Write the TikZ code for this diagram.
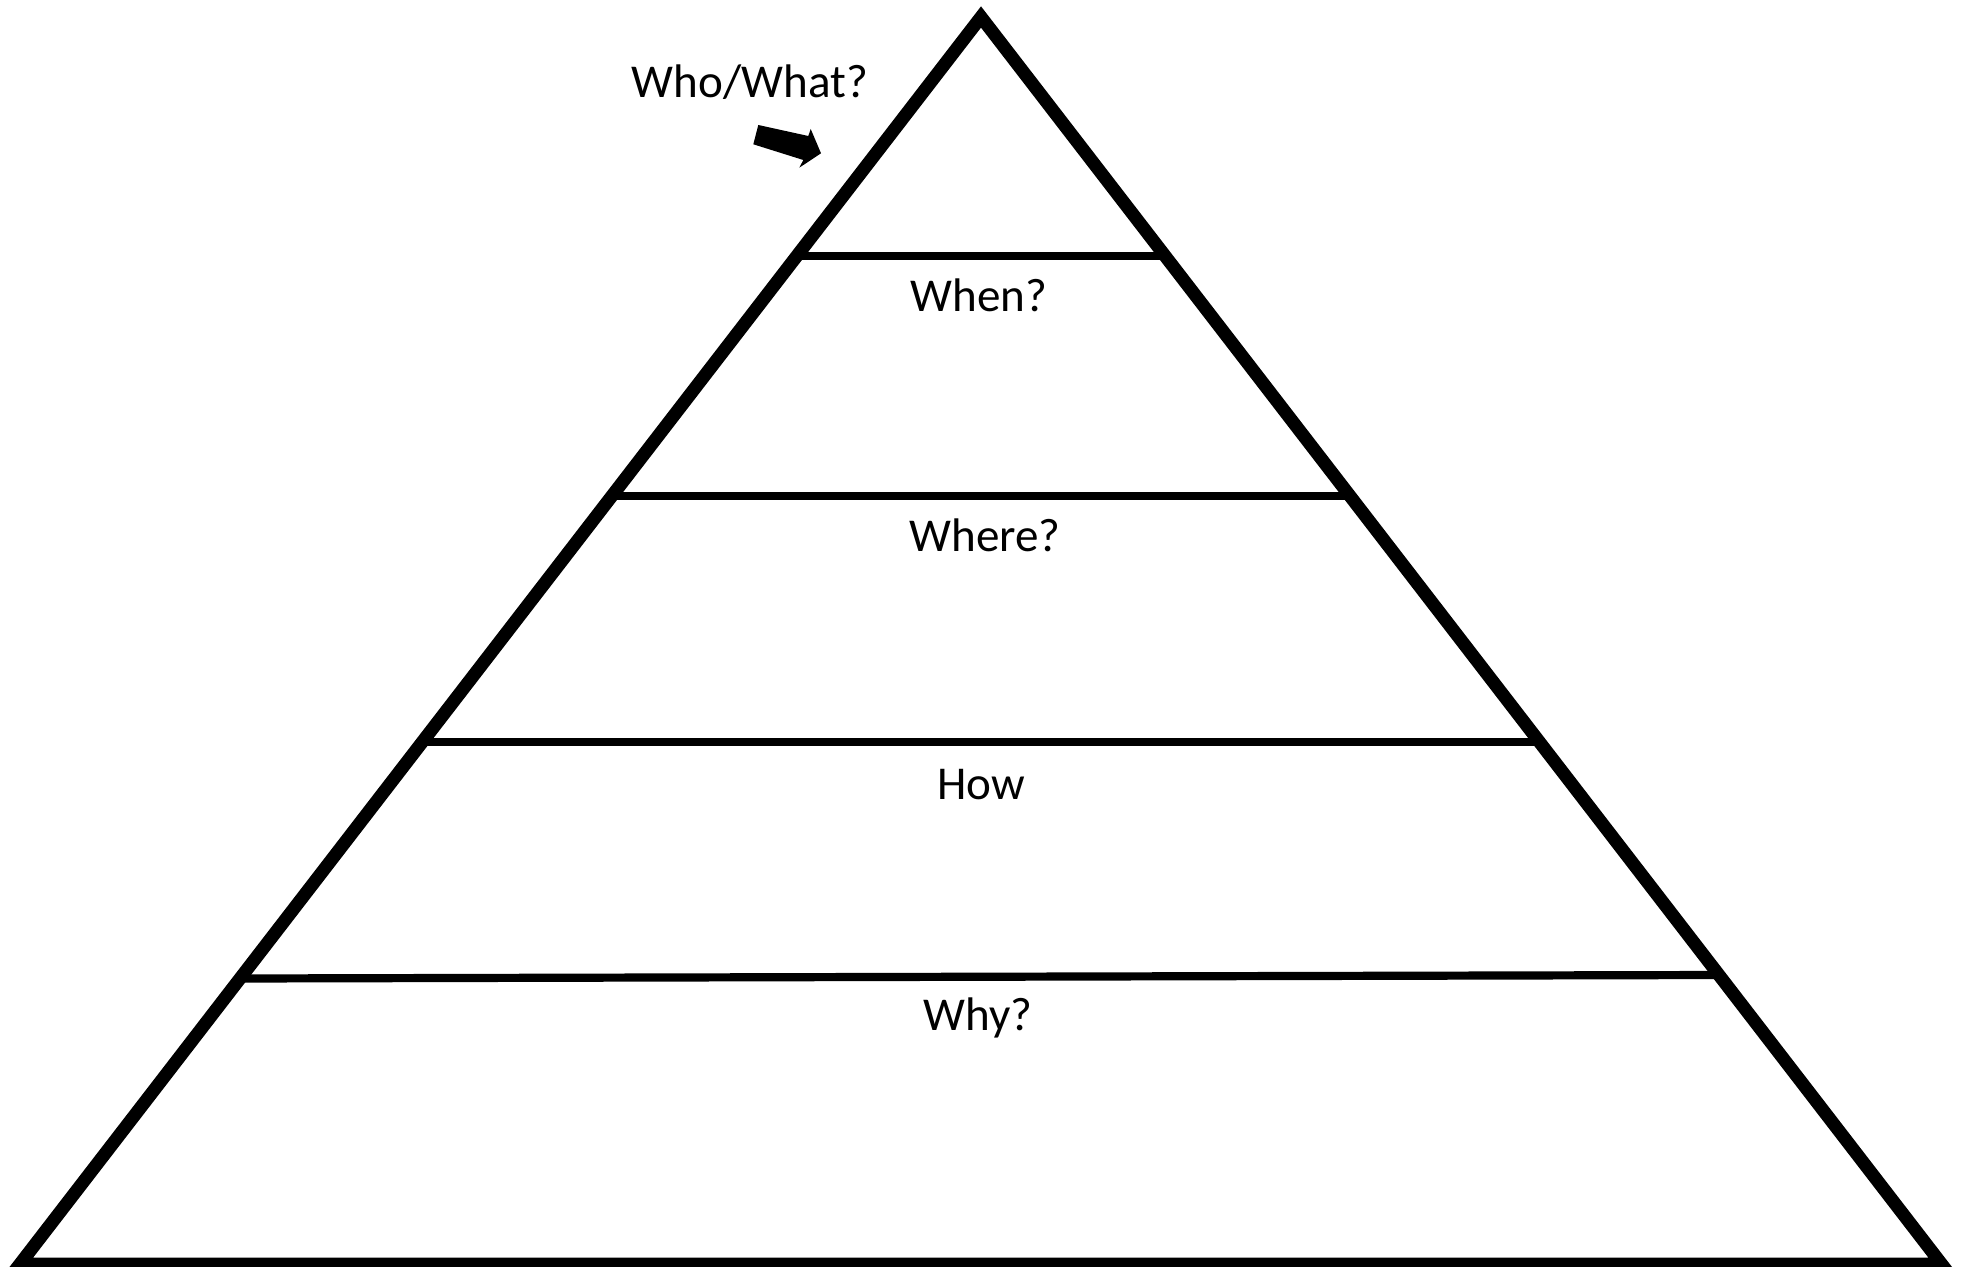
\documentclass[tikz,border=0pt]{standalone}
\usepackage{fontspec}
\setmainfont{Carlito}
\usetikzlibrary{calc}

\begin{document}
\begin{tikzpicture}[
  x=0.1mm, y=-0.1mm,
  frame/.style={draw, line width=1.3mm, line join=miter},
  tier/.style={draw, line width=0.82mm},
  label/.style={anchor=base, inner sep=0pt, font=\fontsize{13.4}{15}\selectfont},
  pointer/.style={fill=black}
]
\useasboundingbox (0,0) rectangle (1965,1267);

% corners of the pyramid
\coordinate (apex) at (981,17);
\coordinate (bl) at (20,1264);
\coordinate (br) at (1941.5,1264);

% dividing lines, ends sit under the frame
\coordinate (t1l) at (797,256);  \coordinate (t1r) at (1164,256);
\coordinate (t2l) at (612,496);  \coordinate (t2r) at (1349,496);
\coordinate (t3l) at (423,742);  \coordinate (t3r) at (1538,742);
\coordinate (t4l) at (241,978.5);\coordinate (t4r) at (1718,975);
\draw[tier] (t1l) -- (t1r);
\draw[tier] (t2l) -- (t2r);
\draw[tier] (t3l) -- (t3r);
\draw[tier] (t4l) -- (t4r);

\draw[frame] (apex) -- (br) -- (bl) -- cycle;

% level labels
\node[label] (who) at (750,98) {Who/What?};
\node[label] (when) at (979,312) {When?};
\node[label] (where) at (985,552) {Where?};
\node[label] (how) at (981,799) {How};
\node[label] (why) at (978,1030) {Why?};

% block arrow
\fill[pointer] (758.3,125) -- (808.3,136) -- (810.7,129) -- (821,153.3)
  -- (799.3,167.7) -- (803.3,160) -- (753.3,144.3) -- cycle;

\end{tikzpicture}
\end{document}
